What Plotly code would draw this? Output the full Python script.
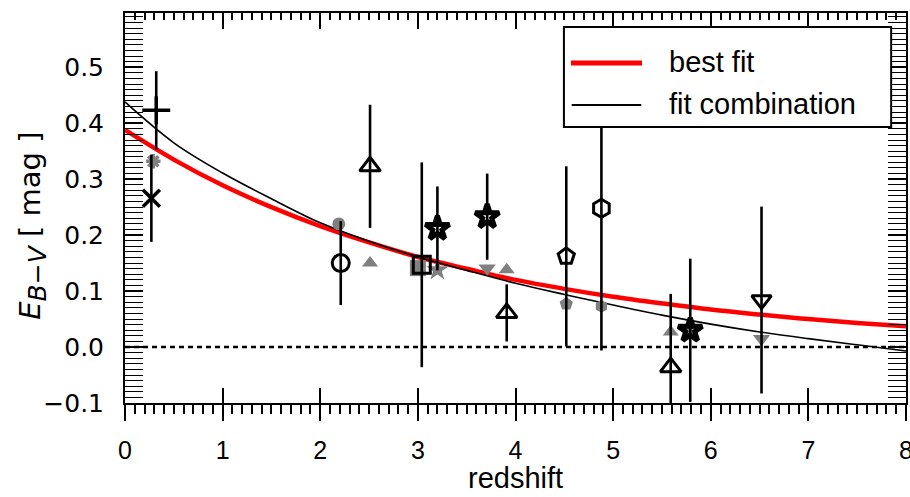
import plotly.graph_objects as go

# ---- fit curves ----
best_z = [0, 0.5, 1.0, 1.5, 2.0, 2.5, 3.0, 3.5, 4.0, 4.5, 5.0, 5.5, 6.0, 6.5, 7.0, 7.5, 8.0]
best_e = [0.388, 0.335, 0.289, 0.250, 0.216, 0.187, 0.161, 0.140, 0.120, 0.104, 0.090,
          0.078, 0.067, 0.058, 0.050, 0.043, 0.037]

comb_z = [0, 0.5, 1.0, 1.5, 2.0, 2.5, 3.0, 3.5, 4.0, 4.5, 5.0, 5.5, 6.0, 6.5, 7.0, 7.5, 8.0]
comb_e = [0.438, 0.365, 0.311, 0.265, 0.222, 0.189, 0.161, 0.137, 0.114, 0.094, 0.075,
          0.057, 0.041, 0.027, 0.015, 0.004, -0.007]

# ---- measurements (black, with error bars) ----
meas_z = [0.27, 0.32, 2.21, 2.51, 3.04, 3.20, 3.71, 3.91, 4.52, 4.88, 5.59, 5.79, 6.52]
meas_e = [0.266, 0.423, 0.150, 0.323, 0.147, 0.212, 0.233, 0.061, 0.162, 0.248, -0.036, 0.030, 0.084]
meas_err = [0.078, 0.070, 0.075, 0.110, 0.183, 0.075, 0.077, 0.051, 0.161, 0.254, 0.131, 0.128, 0.167]
meas_symbol = ['x-thin-open', 'cross-thin-open', 'circle-open', 'triangle-up-open', 'square-open',
               'star-open', 'star-open', 'triangle-up-open', 'pentagon-open', 'hexagon-open',
               'triangle-up-open', 'star-open', 'triangle-down-open']
meas_size = [17, 20, 17, 18, 17, 18, 18, 18, 17, 18, 18, 18, 17]
meas_lw = [3.5, 3.5, 3, 3, 3, 5, 5, 3, 3, 3, 3, 5, 3]

# ---- model values (grey) ----
model_z = [0.29, 2.19, 2.51, 3.00, 3.20, 3.71, 3.91, 4.52, 4.88, 5.59, 5.79, 6.52]
model_e = [0.332, 0.220, 0.150, 0.141, 0.138, 0.141, 0.138, 0.077, 0.073, 0.027, 0.030, 0.015]
model_symbol = ['asterisk-open', 'circle', 'triangle-up', 'square', 'star', 'triangle-down',
                'triangle-up', 'pentagon', 'hexagon', 'triangle-up', 'star', 'triangle-down']
model_size = [12, 13, 14, 16, 17, 15, 14, 14, 13, 14, 17, 15]

x_ticks = [0, 1, 2, 3, 4, 5, 6, 7, 8]
y_ticks = [-0.1, 0.0, 0.1, 0.2, 0.3, 0.4, 0.5]

GREY = '#808080'

fig = go.Figure()

fig.add_trace(go.Scatter(x=best_z, y=best_e, mode='lines', name='best fit',
                         line=dict(color='#ff0000', width=4.5, shape='spline', smoothing=1.0),
                         showlegend=False))
fig.add_trace(go.Scatter(x=comb_z, y=comb_e, mode='lines', name='fit combination',
                         line=dict(color='black', width=1.6, shape='spline', smoothing=1.0),
                         showlegend=False))

fig.add_trace(go.Scatter(
    x=model_z, y=model_e, mode='markers', showlegend=False,
    marker=dict(symbol=model_symbol, size=model_size, color=GREY, opacity=1,
                line=dict(color=GREY, width=[3.5] + [0] * (len(model_z) - 1)))))

fig.add_trace(go.Scatter(
    x=meas_z, y=meas_e, mode='markers', showlegend=False,
    error_y=dict(type='data', array=meas_err, visible=True, color='black', thickness=2.6, width=0),
    marker=dict(symbol=meas_symbol, size=meas_size, color='black', opacity=1,
                line=dict(color='black', width=meas_lw))))

# dummy traces so the overlay axes are drawn
fig.add_trace(go.Scatter(x=[None], y=[None], xaxis='x2', showlegend=False, hoverinfo='skip'))
fig.add_trace(go.Scatter(x=[None], y=[None], xaxis='x3', showlegend=False, hoverinfo='skip'))

TW = 1.5
fig.update_layout(
    width=910, height=497,
    margin=dict(l=125, r=4, t=13, b=94),
    plot_bgcolor='white', paper_bgcolor='white',
    showlegend=False,
    font=dict(family='Liberation Sans, Arial, sans-serif', color='black'),
    xaxis=dict(range=[0, 8], automargin=False, showline=True, linewidth=2, linecolor='black',
               ticks='outside', ticklen=16, tickwidth=TW, tickcolor='black',
               tickvals=x_ticks, ticktext=[str(v) for v in x_ticks],
               minor=dict(ticks='outside', ticklen=9, dtick=0.1, tickwidth=TW, tickcolor='black', showgrid=False),
               showgrid=False, zeroline=False, tickfont=dict(size=25),
               ticklabelstandoff=8, ticklabeloverflow='allow'),
    xaxis2=dict(overlaying='x', anchor='y', side='bottom', range=[0, 8], automargin=False,
                ticks='inside', ticklen=15, tickwidth=TW, tickcolor='black', dtick=1, tick0=0,
                showticklabels=False, showline=False, showgrid=False, zeroline=False),
    xaxis3=dict(overlaying='x', anchor='y', side='top', range=[0, 8], automargin=False,
                showline=True, linewidth=2, linecolor='black',
                ticks='inside', ticklen=16, tickwidth=TW, tickcolor='black', dtick=1, tick0=0,
                minor=dict(ticks='inside', ticklen=7, dtick=0.1, tickwidth=TW, tickcolor='black', showgrid=False),
                showticklabels=False, showgrid=False, zeroline=False),
    yaxis=dict(range=[-0.1, 0.597], automargin=False, showline=True, linewidth=2, linecolor='black',
               mirror='allticks',
               ticks='inside', ticklen=18, tickwidth=TW, tickcolor='black',
               tickvals=y_ticks, tickformat='.1f',
               minor=dict(ticks='inside', ticklen=10, dtick=0.01, tick0=0, tickwidth=1.2, tickcolor='black', showgrid=False),
               showgrid=False, zeroline=False,
               tickfont=dict(size=25, family='DejaVu Sans, Liberation Sans, sans-serif'),
               ticklabelstandoff=14),
)

# zero line
fig.add_shape(type='line', xref='x', yref='y', x0=0, x1=8, y0=0, y1=0,
              line=dict(color='black', width=2.5, dash='5px,4px'), layer='below')

# frame spines extending below the x axis
for xp in (0, 1):
    fig.add_shape(type='line', xref='paper', yref='paper', x0=xp, x1=xp, y0=-0.041, y1=0,
                  line=dict(color='black', width=2))

# legend (box, samples, text)
fig.add_shape(type='rect', xref='paper', yref='paper', x0=0.562, x1=0.981, y0=0.708, y1=0.964,
              fillcolor='white', line=dict(color='black', width=2), layer='above')
fig.add_shape(type='line', xref='paper', yref='paper', x0=0.571, x1=0.662, y0=0.872, y1=0.872,
              line=dict(color='#ff0000', width=5), layer='above')
fig.add_shape(type='line', xref='paper', yref='paper', x0=0.572, x1=0.661, y0=0.764, y1=0.764,
              line=dict(color='black', width=2), layer='above')
fig.add_annotation(text='best fit', xref='paper', yref='paper', x=0.694, y=0.874,
                   xanchor='left', yanchor='middle', showarrow=False, font=dict(size=29))
fig.add_annotation(text='fit combination', xref='paper', yref='paper', x=0.694, y=0.766,
                   xanchor='left', yanchor='middle', showarrow=False, font=dict(size=29))

# x axis title
fig.add_annotation(text='redshift', xref='paper', yref='paper', x=0.5, y=-0.2385,
                   xanchor='center', yanchor='bottom', showarrow=False, font=dict(size=29))

# y axis title
fig.add_annotation(text='<i>E</i><sub><i><span style="font-size:25px">B\u2212V</span></i></sub> [ mag ]',
                   xref='paper', yref='paper',
                   x=-0.118, y=0.454, xanchor='center', yanchor='middle', textangle=-90,
                   showarrow=False, font=dict(size=29, family='DejaVu Sans, Liberation Sans, sans-serif'))

fig.write_html('out.html')
